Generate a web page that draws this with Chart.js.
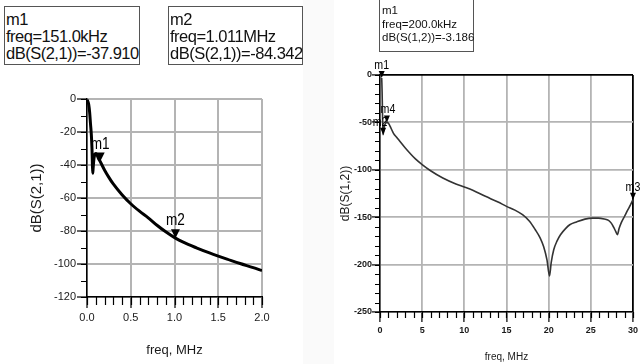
<!doctype html>
<html>
<head>
<meta charset="utf-8">
<title>S-parameter plots</title>
<style>
  body { margin: 0; background: #fff; width: 641px; height: 364px; overflow: hidden; position: relative;
         font-family: "Liberation Sans", Arial, sans-serif; }
  .gap { position: absolute; left: 303px; top: 0; width: 31px; height: 364px; background: #fafafa; }
  canvas { position: absolute; top: 0; }
  #chartL { left: 0; }
  #chartR { left: 320px; }
  .box { position: absolute; box-sizing: border-box; background: #fff; border: 1px solid #555; color: #111;
         white-space: nowrap; z-index: 2; }
  .big { top: 6px; height: 59px; font-size: 16.5px; line-height: 17px; letter-spacing: -0.5px; padding: 4px 0 0 1px; }
  #boxL1 { left: 4px; width: 136px; }
  #boxL2 { left: 168px; width: 135px; }
  #boxR1 { left: 379px; top: -1px; width: 95px; height: 53px; font-size: 11.5px; line-height: 13.5px;
           padding: 4px 0 0 2px; }
</style>
</head>
<body>
  <div class="gap"></div>
  <canvas id="chartL" width="310" height="364"></canvas>
  <canvas id="chartR" width="321" height="364"></canvas>
  <div class="box big" id="boxL1">m1<br>freq=151.0kHz<br>dB(S(2,1))=-37.910</div>
  <div class="box big" id="boxL2">m2<br>freq=1.011MHz<br>dB(S(2,1))=-84.342</div>
  <div class="box" id="boxR1">m1<br>freq=200.0kHz<br>dB(S(1,2))=-3.186</div>

<script src="https://cdn.jsdelivr.net/npm/chart.js"></script>
<script>
// left plot: dB(S(2,1)) vs freq in MHz
const freqS21 = [0, 0.01, 0.02, 0.03, 0.04, 0.05, 0.057, 0.062, 0.066, 0.07, 0.08, 0.09, 0.1, 0.115, 0.13, 0.151,
  0.2, 0.25, 0.3, 0.4, 0.5, 0.6, 0.7, 0.8, 0.9, 1.011, 1.1, 1.25, 1.4, 1.5, 1.6, 1.75, 1.9, 2.0];
const dbS21 = [-0.5, -1.5, -3.5, -8, -15, -22, -30, -40, -45, -42, -36, -33.5, -33, -34, -36, -37.9,
  -43, -47.5, -51.5, -58, -63.5, -68, -72, -76.5, -80.5, -84.34, -86.8, -90.2, -93.3, -95.2, -97.0, -99.7, -102.2, -104];
const markerNamesS21 = ['m1', 'm2'];
const markerFreqS21 = [0.151, 1.011];
const markerDbS21 = [-37.910, -84.342];

// right plot: dB(S(1,2)) vs freq in MHz
const freqS12 = [0.2, 0.22, 0.25, 0.28, 0.31, 0.34, 0.37, 0.42, 0.5, 0.65, 0.8, 1.0, 1.3, 1.6, 2.0, 2.35, 3.0, 3.5,
  4.2, 5.0, 6.0, 7.45, 9.0, 10, 11, 12.5, 14, 15, 16, 16.9, 17.7, 18.4, 19.0, 19.4, 19.8, 20.1, 20.3, 20.6, 21.0,
  21.4, 22.0, 22.5, 23.3, 24.3, 25.2, 25.9, 26.6, 27.1, 27.4, 27.7, 27.95, 28.15, 28.35, 28.6, 29.0, 29.4, 29.7, 30];
const dbS12 = [-3.19, -8, -18, -32, -46, -58, -63, -60, -55, -51, -50, -51, -56, -61.5, -66, -70, -77, -82,
  -88.5, -94.5, -101, -108.7, -115, -118.1, -121.5, -128, -134, -138.6, -142.5, -147.4, -154, -163, -172, -181, -195, -212, -198, -184.3, -175,
  -168.5, -162, -158, -155, -152, -151, -151, -152, -153.4, -156, -160.5, -165, -168.5, -162, -156, -149, -142, -137, -131.5];
const markerNamesS12 = ['m1', 'm2', 'm4', 'm3'];
const markerFreqS12 = [0.2, 0.37, 0.82, 30];
const markerDbS12 = [-3.186, -63, -50, -131.5];

const FONT = "'Liberation Sans', Arial, sans-serif";
const GRID = '#b4b4b4';
Chart.defaults.font.family = FONT;

function pts(xs, ys) {
  return xs.map((x, i) => ({ x: x, y: ys[i] }));
}

// short ticks between the labelled ones
const minorTicks = {
  id: 'minorTicks',
  afterDraw(chart, args, o) {
    const ctx = chart.ctx, x = chart.scales.x, y = chart.scales.y;
    ctx.save();
    ctx.strokeStyle = '#000';
    ctx.lineWidth = 1.2;
    ctx.beginPath();
    const nx = Math.round((x.max - x.min) / o.xStep);
    for (let i = 0; i <= nx; i++) {
      const px = Math.round(x.getPixelForValue(x.min + i * o.xStep)) + 0.5;
      ctx.moveTo(px, y.bottom);
      ctx.lineTo(px, y.bottom + o.xLen);
    }
    const ny = Math.round((y.max - y.min) / o.yStep);
    for (let i = 0; i <= ny; i++) {
      const py = Math.round(y.getPixelForValue(y.min + i * o.yStep)) + 0.5;
      ctx.moveTo(x.left, py);
      ctx.lineTo(x.left - o.yLen, py);
    }
    ctx.stroke();
    ctx.restore();
  }
};

// ADS style markers: a down triangle with its name above
const markers = {
  id: 'markers',
  afterDatasetsDraw(chart, args, o) {
    const ctx = chart.ctx, x = chart.scales.x, y = chart.scales.y;
    ctx.save();
    ctx.fillStyle = '#000';
    o.names.forEach((name, i) => {
      const px = x.getPixelForValue(o.freq[i]);
      const py = y.getPixelForValue(o.db[i]);
      ctx.beginPath();
      ctx.moveTo(px - o.w / 2, py - o.h);
      ctx.lineTo(px + o.w / 2, py - o.h);
      ctx.lineTo(px, py);
      ctx.closePath();
      ctx.fill();
      ctx.save();
      ctx.translate(px + (o.dx[i] || 0), py - o.h - o.gap);
      ctx.scale(o.squeeze, 1);
      ctx.font = o.fontSize + 'px ' + FONT;
      ctx.textAlign = 'center';
      ctx.textBaseline = 'alphabetic';
      ctx.fillText(name, 0, 0);
      ctx.restore();
    });
    ctx.restore();
  }
};

new Chart(document.getElementById('chartL'), {
  type: 'scatter',
  data: {
    datasets: [{
      data: pts(freqS21, dbS21),
      showLine: true,
      borderColor: '#000',
      borderWidth: 3,
      pointRadius: 0,
      cubicInterpolationMode: 'monotone'
    }]
  },
  options: {
    responsive: false,
    animation: false,
    layout: { padding: { top: 99, right: 48, left: 0, bottom: 0 } },
    plugins: {
      legend: { display: false },
      tooltip: { enabled: false },
      minorTicks: { xStep: 0.1, xLen: 8, yStep: 10, yLen: 6 },
      markers: { names: markerNamesS21, freq: markerFreqS21, db: markerDbS21, dx: [0, 0],
                 w: 9, h: 9, gap: 4, fontSize: 16, squeeze: 0.85 }
    },
    scales: {
      x: {
        type: 'linear', min: 0, max: 2,
        afterFit: s => { s.height = 67; },
        ticks: { stepSize: 0.5, callback: v => v.toFixed(1), font: { size: 11 }, color: '#1a1a1a',
                 padding: 3, maxRotation: 0, autoSkip: false },
        grid: { color: GRID, lineWidth: 2, tickLength: 11, tickColor: '#000', tickWidth: 1.2 },
        border: { color: '#000', width: 1.5 },
        title: { display: true, text: 'freq, MHz', font: { size: 13 }, color: '#1a1a1a', padding: { top: 0, bottom: 6 } }
      },
      y: {
        min: -120, max: 0,
        afterFit: s => { s.width = 87; },
        ticks: { stepSize: 20, font: { size: 11 }, color: '#1a1a1a', padding: 1 },
        grid: { color: GRID, lineWidth: 2, tickLength: 10, tickColor: '#000', tickWidth: 1.2 },
        border: { color: '#000', width: 1.5 },
        title: { display: true, text: 'dB(S(2,1))', font: { size: 15 }, color: '#1a1a1a', padding: { top: 28, bottom: 0 } }
      }
    }
  },
  plugins: [minorTicks, markers]
});

new Chart(document.getElementById('chartR'), {
  type: 'scatter',
  data: {
    datasets: [{
      data: pts(freqS12, dbS12),
      showLine: true,
      borderColor: '#333',
      borderWidth: 1.6,
      pointRadius: 0,
      cubicInterpolationMode: 'monotone'
    }]
  },
  options: {
    responsive: false,
    animation: false,
    layout: { padding: { top: 75, right: 6, left: 0, bottom: 0 } },
    plugins: {
      legend: { display: false },
      tooltip: { enabled: false },
      minorTicks: { xStep: 1, xLen: 6, yStep: 10, yLen: 5 },
      markers: { names: markerNamesS12, freq: markerFreqS12, db: markerDbS12, dx: [0, -3, 1, 0],
                 w: 6, h: 7, gap: 2, fontSize: 12.5, squeeze: 0.85 }
    },
    scales: {
      x: {
        type: 'linear', min: 0, max: 30,
        afterFit: s => { s.height = 52; },
        ticks: { stepSize: 5, font: { size: 9, weight: 'bold' }, color: '#1a1a1a', padding: 3, maxRotation: 0, autoSkip: false },
        grid: { color: c => (c.tick && c.tick.value === 30 ? '#000' : GRID), lineWidth: 1.8,
                tickLength: 10, tickColor: '#000', tickWidth: 1.2 },
        border: { color: '#000', width: 1.5 },
        title: { display: true, text: 'freq, MHz', font: { size: 10 }, color: '#1a1a1a', padding: { top: 0, bottom: 1 } }
      },
      y: {
        min: -250, max: 0,
        afterFit: s => { s.width = 60; },
        ticks: { stepSize: 50, font: { size: 9, weight: 'bold' }, color: '#1a1a1a', padding: 0 },
        grid: { color: c => (c.tick && c.tick.value === 0 ? '#000' : GRID), lineWidth: 1.8,
                tickLength: 8, tickColor: '#000', tickWidth: 1.2 },
        border: { color: '#000', width: 1.5 },
        title: { display: true, text: 'dB(S(1,2))', font: { size: 12 }, color: '#1a1a1a', padding: { top: 18, bottom: 0 } }
      }
    }
  },
  plugins: [minorTicks, markers]
});
</script>
</body>
</html>
